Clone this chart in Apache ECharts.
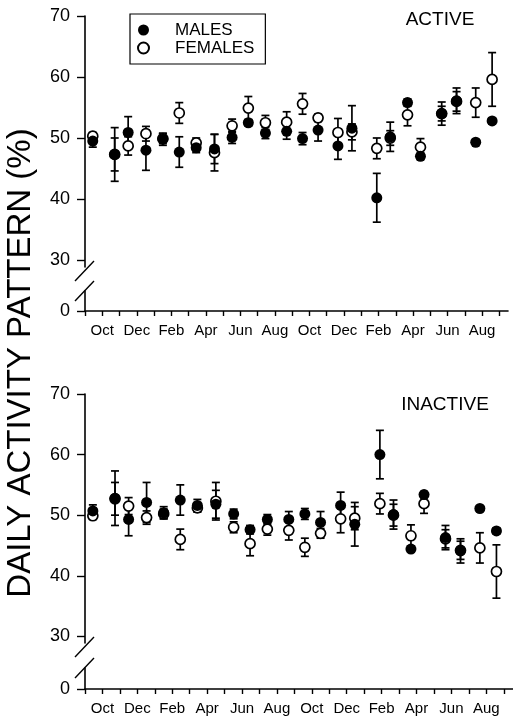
<!DOCTYPE html>
<html><head><meta charset="utf-8">
<script src="https://cdn.jsdelivr.net/npm/echarts@6/dist/echarts.min.js"></script>
<style>html,body{margin:0;padding:0;background:#fff}#c{width:513px;height:719px}</style>
</head><body><div id="c"></div>
<script>
// ---- data ----
const monthNames = ['Sep','Oct','Nov','Dec','Jan','Feb','Mar','Apr','May','Jun','Jul','Aug'];
const labelledMonthIdx = [1,3,5,7,9,11,13,15,17,19,21,23];
const sampleMonth = [0.45,1.72,2.5,3.53,4.51,5.46,6.44,7.5,8.52,9.46,10.45,11.68,12.6,13.5,14.65,15.46,16.9,17.68,18.68,19.43,20.66,21.52,22.63,23.58];

const activeMales      = [49.5,47.3,50.9,48.0,49.8,47.7,48.4,48.2,50.1,52.5,50.8,51.1,49.9,51.3,48.7,51.6,40.2,50.2,55.8,47.0,54.0,56.1,49.3,52.8];
const activeMalesErr   = [1.0,4.4,2.6,3.3,1.0,2.5,0.8,2.4,1.0,0.5,0.9,1.3,1.0,1.8,2.2,3.7,4.0,2.4,0.6,0.5,1.9,2.1,0.3,0.5];
const activeFemales    = [50.3,47.3,48.7,50.7,49.9,54.1,49.2,47.6,52.0,54.9,52.5,52.6,55.6,53.3,50.9,51.0,48.3,50.0,53.8,48.5,54.0,56.0,55.8,59.6];
const activeFemalesErr = [0.6,2.7,1.5,1.2,0.8,1.7,0.8,3.0,1.1,1.9,1.2,1.7,1.7,0.6,2.3,1.3,1.7,1.2,1.8,1.4,1.2,1.6,2.4,4.4];

const inactiveMales      = [50.7,52.8,49.3,52.1,50.4,52.5,51.6,51.8,50.2,47.6,49.3,49.3,50.2,48.8,51.6,48.5,60.0,50.1,44.4,53.4,46.3,44.1,51.1,47.4];
const inactiveMalesErr   = [1.0,4.5,2.7,3.3,1.0,2.5,1.0,2.3,0.8,0.7,0.8,1.3,0.9,1.8,2.2,3.6,4.0,2.4,0.5,0.5,2.0,2.0,0.3,0.5];
const inactiveFemales    = [49.9,52.7,51.5,49.6,50.2,46.0,51.2,52.3,48.0,45.3,47.7,47.5,44.7,47.0,49.4,49.5,51.9,50.0,46.6,51.9,46.1,44.2,44.6,40.7];
const inactiveFemalesErr = [0.6,2.7,1.4,1.1,0.8,1.7,0.7,3.1,0.9,2.0,1.0,1.6,1.5,0.8,2.3,1.9,1.7,1.8,1.8,1.6,1.5,1.5,2.5,4.4];

const yTickValues = [30,40,50,60,70];
const yStubTicks = [0];
const panelLabels = ['ACTIVE','INACTIVE'];
const yTitle = 'DAILY ACTIVITY PATTERN (%)';
const legendNames = ['MALES','FEMALES'];

// ---- layout ----
const FONT = '"Liberation Sans", Arial, sans-serif';
const AX_X = 85;
const panels = [
  {mainTop:16, mainH:251, mainMin:28.85, stubTop:291, stubH:20, width:423, label:panelLabels[0], lx:440, ly:20,
   m:activeMales, me:activeMalesErr, f:activeFemales, fe:activeFemalesErr},
  {mainTop:394, mainH:249, mainMin:28.9, stubTop:668, stubH:21, width:427.5, label:panelLabels[1], lx:445, ly:405,
   m:inactiveMales, me:inactiveMalesErr, f:inactiveFemales, fe:inactiveFemalesErr}
];

const grid=[], xAxis=[], yAxis=[], series=[], graphic=[];
const axisLineStyle = {color:'#000', width:1.6};
const allTicks = []; for (let i=0;i<=24;i++) allTicks.push(i);

panels.forEach((p) => {
  const gi = grid.length;
  grid.push({left:AX_X, top:p.mainTop, height:p.mainH, width:p.width});
  grid.push({left:AX_X, top:p.stubTop, height:p.stubH, width:p.width});
  xAxis.push({type:'value', gridIndex:gi, min:0, max:24.5, show:false});
  xAxis.push({type:'value', gridIndex:gi+1, min:0, max:24.5,
    axisLine:{show:true, lineStyle:axisLineStyle},
    axisTick:{show:true, length:5, lineStyle:{color:'#000', width:1.4}, customValues:allTicks},
    axisLabel:{show:true, customValues:labelledMonthIdx, margin:12, color:'#000', fontSize:15, fontFamily:FONT,
      formatter:(v)=>monthNames[Math.round(v)%12]},
    splitLine:{show:false}});
  yAxis.push({type:'value', gridIndex:gi, min:p.mainMin, max:70,
    axisLine:{show:true, lineStyle:axisLineStyle},
    axisTick:{show:true, length:8, lineStyle:{color:'#000', width:1.4}, customValues:yTickValues},
    axisLabel:{show:true, customValues:yTickValues, margin:15, color:'#000', fontSize:18, fontFamily:FONT},
    splitLine:{show:false}});
  yAxis.push({type:'value', gridIndex:gi+1, min:0, max:1,
    axisLine:{show:true, lineStyle:axisLineStyle},
    axisTick:{show:true, length:8, lineStyle:{color:'#000', width:1.4}, customValues:yStubTicks},
    axisLabel:{show:true, customValues:yStubTicks, margin:15, color:'#000', fontSize:18, fontFamily:FONT},
    splitLine:{show:false}});

  const xi = gi, yi = gi;
  const errSeries = (vals, errs) => ({
    type:'custom', xAxisIndex:xi, yAxisIndex:yi, silent:true, z:1,
    data: sampleMonth.map((mth,i)=>[mth, vals[i]-errs[i], vals[i]+errs[i]]),
    encode:{x:0, y:[1,2]},
    renderItem(params, api){
      const lo = api.coord([api.value(0), api.value(1)]);
      const hi = api.coord([api.value(0), api.value(2)]);
      const w = 4, st = {stroke:'#000', lineWidth:1.7};
      return {type:'group', children:[
        {type:'line', shape:{x1:lo[0],y1:lo[1],x2:hi[0],y2:hi[1]}, style:st},
        {type:'line', shape:{x1:lo[0]-w,y1:lo[1],x2:lo[0]+w,y2:lo[1]}, style:st},
        {type:'line', shape:{x1:hi[0]-w,y1:hi[1],x2:hi[0]+w,y2:hi[1]}, style:st}
      ]};
    }
  });
  series.push(errSeries(p.f, p.fe));
  series.push(errSeries(p.m, p.me));
  series.push({type:'scatter', name:legendNames[1], xAxisIndex:xi, yAxisIndex:yi, z:3,
    symbol:'circle', symbolSize:10,
    itemStyle:{color:'#fff', borderColor:'#000', borderWidth:1.7, opacity:1},
    data: sampleMonth.map((mth,i)=>[mth, p.f[i]])});
  series.push({type:'scatter', name:legendNames[0], xAxisIndex:xi, yAxisIndex:yi, z:4,
    symbol:'circle', symbolSize:11,
    itemStyle:{color:'#000', opacity:1},
    data: sampleMonth.map((mth,i)=>[mth, p.m[i]])});

  graphic.push({type:'text', x:p.lx, y:p.ly, style:{text:p.label, font:'19px '+FONT, fill:'#000',
    textAlign:'center', textVerticalAlign:'middle', align:'center', verticalAlign:'middle'}});
  const mainBottom = p.mainTop + p.mainH;
  [mainBottom+4, p.stubTop].forEach(yc => {
    graphic.push({type:'line', shape:{x1:AX_X-10, y1:yc+10, x2:AX_X+9, y2:yc-10},
      style:{stroke:'#000', lineWidth:1.4}});
  });
});

graphic.push({type:'text', x:21, y:363, rotation:Math.PI/2,
  style:{text:yTitle, font:'33px '+FONT, fill:'#000', textAlign:'center', textVerticalAlign:'middle', align:'center', verticalAlign:'middle'}});

const chart = echarts.init(document.getElementById('c'), null, {renderer:'canvas'});
chart.setOption({
  animation:false,
  backgroundColor:'#fff',
  grid, xAxis, yAxis, series, graphic,
  legend:{
    data:[{name:legendNames[0], icon:'circle', itemStyle:{color:'#000'}},{name:legendNames[1], icon:'circle'}],
    orient:'vertical', left:130, top:14, itemWidth:11, itemHeight:11, itemGap:0,
    padding:[7,11,7,7], borderColor:'#000', borderWidth:1.2,
    selectedMode:false,
    textStyle:{fontSize:17, fontFamily:FONT, color:'#000', lineHeight:18, padding:[0,0,0,21]}
  }
});
</script></body></html>
